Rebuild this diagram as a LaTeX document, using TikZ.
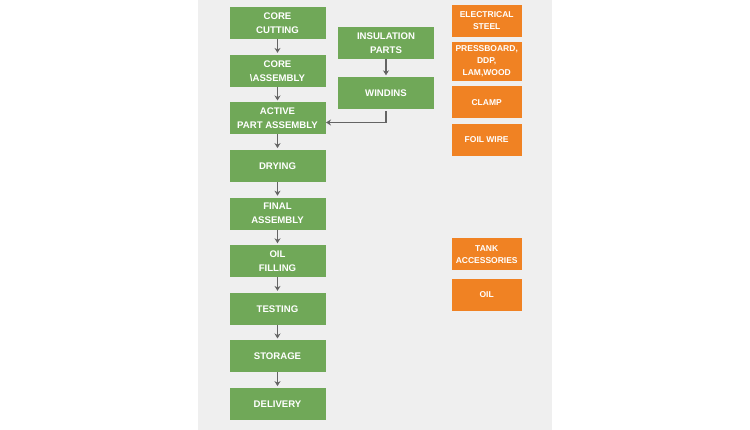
\documentclass[tikz,border=0pt]{standalone}
\usepackage{fontspec}
\setmainfont{Liberation Sans}
\usetikzlibrary{positioning,arrows.meta}
\definecolor{verde}{RGB}{112,168,88}
\definecolor{naranja}{RGB}{240,130,35}
\definecolor{fondo}{RGB}{239,239,239}
\definecolor{gris}{RGB}{100,100,100}
\tikzset{
	paso/.style={fill=verde, text=white, font=\bfseries\fontsize{9.6}{14}\selectfont, minimum width=96pt, minimum height=32pt, align=center, inner sep=0pt, outer sep=0pt},
	material/.style={fill=naranja, text=white, font=\bfseries\fontsize{8.5}{12}\selectfont, minimum width=70pt, minimum height=32pt, align=center, inner sep=0pt, outer sep=0pt},
	flujo/.style={gris, line width=1.2pt, shorten >=2pt, -{Stealth[length=5pt,width=6pt]}}
}
\begin{document}
\begin{tikzpicture}[x=1pt, y=-1pt, node distance=15.6pt]
	\useasboundingbox (0,0) rectangle (750,430);
	% Fondo
		\fill[white] (0,0) rectangle (750,430);
		\fill[fondo] (198,0) rectangle (552,430);

	% Proceso principal
		\node[paso] (corte) at (277.5,23.3) {CORE\\CUTTING};
		\node[paso, below=of corte] (nucleo) {CORE\\\textbackslash ASSEMBLY};
		\node[paso, below=of nucleo] (activa) {ACTIVE\\PART ASSEMBLY};
		\node[paso, below=of activa] (secado) {DRYING};
		\node[paso, below=of secado] (final) {FINAL\\ASSEMBLY};
		\node[paso, below=of final] (aceite) {OIL\\FILLING};
		\node[paso, below=of aceite] (prueba) {TESTING};
		\node[paso, below=of prueba] (almacen) {STORAGE};
		\node[paso, below=of almacen] (entrega) {DELIVERY};

	% Rama de aislamiento
		\node[paso, minimum width=96.6pt] (aislante) at (386,43.3) {INSULATION\\PARTS};
		\node[paso, minimum width=96.6pt, below=18pt of aislante] (devanado) {WINDINS};

	% Flechas
		\draw[flujo] (corte) -- (nucleo);
		\draw[flujo] (nucleo) -- (activa);
		\draw[flujo] (activa) -- (secado);
		\draw[flujo] (secado) -- (final);
		\draw[flujo] (final) -- (aceite);
		\draw[flujo] (aceite) -- (prueba);
		\draw[flujo] (prueba) -- (almacen);
		\draw[flujo] (almacen) -- (entrega);
		\draw[flujo] (aislante) -- (devanado);
		\draw[flujo, shorten >=0.5pt] ([yshift=-2pt]devanado.south) |- ([yshift=-4pt]activa.east);

	% Materiales
		\node[material] (acero) at (486.7,20.8) {ELECTRICAL\\STEEL};
		\node[material, minimum height=38.7pt, below=5.5pt of acero] (carton) {PRESSBOARD,\\DDP,\\LAM,WOOD};
		\node[material, below=5.5pt of carton] (brida) {CLAMP};
		\node[material, below=5.5pt of brida] (lamina) {FOIL WIRE};
		\node[material] (tanque) at (486.7,254.5) {TANK\\ACCESSORIES};
		\node[material, below=8.3pt of tanque] (oil) {OIL};
\end{tikzpicture}
\end{document}
